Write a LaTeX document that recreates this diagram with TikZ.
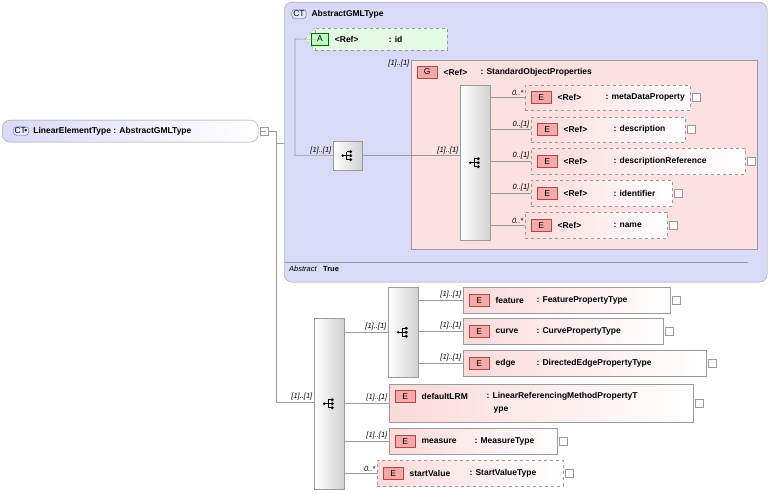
\documentclass[tikz,border=0pt]{standalone}
\usepackage{fontspec}
\setmainfont{Liberation Sans}
\usetikzlibrary{positioning,shapes.geometric}
\definecolor{ctfill}{HTML}{D9DAF7}
\definecolor{elfill}{HTML}{FCDADA}
\definecolor{icofill}{HTML}{F6A9A9}
\definecolor{icoline}{HTML}{B04848}
\definecolor{edge}{HTML}{9A9A9A}
\definecolor{attfill}{HTML}{E4FBE4}
\tikzset{
  box/.style={anchor=north west,inner sep=0pt,draw=edge},
  elem/.style={box,left color=elfill,right color=white},
  optl/.style={dashed},
  comp/.style={box,left color=white,right color=black!18},
  ico/.style={draw=icoline,fill=icofill,inner sep=0pt,minimum width=20pt,minimum height=12pt,font=\fontsize{8.5}{9}\selectfont},
  txt/.style={anchor=west,inner sep=0pt,font=\bfseries\fontsize{8.5}{10}\selectfont},
  card/.style={anchor=south east,inner sep=1.5pt,font=\itshape\fontsize{7.5}{8}\selectfont},
  plus/.style={draw=edge,fill=white,inner sep=0pt,minimum size=8pt},
  conn/.style={draw=edge,line width=0.6pt}
}
% element: name, x, y, width, height, name text, type text, extra style, type offset
\newcommand{\elembox}[9]{%
  \node[elem,#8,minimum width=#4pt,minimum height=#5pt] (#1) at (#2,#3) {};
  \node[ico,anchor=west] (#1i) at ([xshift=6pt]#1.west) {E};
  \node[txt,right=6pt of #1i] (#1n) {#6};
  \node[txt] at ([xshift=#9pt]#1n.west) {#7};
  \node[plus,anchor=west] at ([xshift=2pt]#1.east) {};}
\newcommand{\compico}[1]{%
  \fill (#1) ++(-5pt,0) circle (1.4pt);
  \draw[line width=0.6pt] (#1) ++(-5pt,0) -- ++(4pt,0) ++(0,-4pt) -- ++(0,8pt)
    ++(0,0) -- ++(3pt,0) ++(-3pt,-4pt) -- ++(3pt,0) ++(-3pt,-4pt) -- ++(3pt,0);
  \fill (#1) ++(3pt,4pt) circle (1.6pt) ++(0,-4pt) circle (1.6pt) ++(0,-4pt) circle (1.6pt);}
\begin{document}
\begin{tikzpicture}[x=1pt,y=-1pt]
\useasboundingbox (0,0) rectangle (772,494);
% base type container
\node[box,rounded corners=8pt,fill=ctfill,minimum width=483pt,minimum height=280pt] (base) at (284,2) {};
\node[draw=edge!60!blue,rounded corners=3pt,fill=ctfill!60,inner sep=1.5pt,font=\fontsize{8.5}{9}\selectfont] (baseico) at (299,14) {CT};
\node[txt,right=5pt of baseico] {AbstractGMLType};
\draw[edge] (285,262) -- (748,262);
\node[anchor=west,inner sep=0pt,font=\itshape\fontsize{7.5}{8}\selectfont] (abs) at (289,269) {Abstract};
\node[txt,font=\bfseries\fontsize{7.5}{8}\selectfont,right=6pt of abs] {True};
% main complex type
\node[box,rounded corners=8pt,left color=ctfill,right color=white,minimum width=256pt,minimum height=22pt] (main) at (2,120) {};
\node[draw=edge!60!blue,rounded corners=4pt,fill=ctfill!60,inner sep=1.5pt,font=\fontsize{8.5}{9}\selectfont] (mainico) at (21,131) {CT$\!$\textbullet};
\node[txt,right=4pt of mainico] {LinearElementType : AbstractGMLType};
\node[draw=edge,fill=white,inner sep=0pt,minimum size=8pt] (mainm) at (264,131) {};
\draw[edge] (mainm.west|-mainm) ++(1.5pt,0) -- ++(5pt,0);
% attribute id
\node[box,dashed,fill=attfill,minimum width=132pt,minimum height=22pt] (att) at (315,28) {};
\fill[attfill] (att.north west) -- ++(-10,11) -- ([yshift=0pt]att.south west) -- cycle;
\draw[edge,dashed] (att.north west) -- ++(-10,11) -- (att.south west);
\node[draw=green!40!black,fill=green!25,inner sep=0pt,minimum width=17pt,minimum height=12pt,font=\fontsize{8.5}{9}\selectfont] (atti) at (320,39) {A};
\node[txt,right=6pt of atti] (attn) {<Ref>};
\node[txt] at ([xshift=54pt]attn.west) {: id};
% group StandardObjectProperties
\node[box,fill=elfill!80,minimum width=346pt,minimum height=189pt] (grp) at (411,60) {};
\node[ico,anchor=west] (grpi) at (417,72) {G};
\node[txt,right=6pt of grpi] (grpn) {<Ref>};
\node[txt] at ([xshift=37pt]grpn.west) {: StandardObjectProperties};
\node[card] at ([yshift=-9pt]grp.north west) {[1]..[1]};
% sequences
\node[comp,minimum width=29pt,minimum height=29pt] (seqa) at (333,141) {};
\compico{seqa.center}
\node[comp,minimum width=30pt,minimum height=155pt] (seqb) at (460,85) {};
\compico{seqb.center}
\draw[conn] (mainm.east) -| (276,402) -- (314,402);
\draw[conn] (276,143) -- (284,143);
\draw[conn] (att.west) -- (295,39) |- (seqa.west);
\node[card] at (seqa.west) {[1]..[1]};
\draw[conn] (seqa.east) -- (seqb.west|-seqa.east);
\node[card] at (seqb.west|-seqa.east) {[1]..[1]};
% group members
\elembox{meta}{525}{85}{165}{25}{<Ref>}{: metaDataProperty}{optl}{48}
\elembox{desc}{531}{117}{154}{25}{<Ref>}{: description}{optl}{50}
\elembox{dref}{531}{148}{214}{26}{<Ref>}{: descriptionReference}{optl}{50}
\elembox{iden}{531}{180}{141}{26}{<Ref>}{: identifier}{optl}{50}
\elembox{name}{525}{212}{142}{26}{<Ref>}{: name}{optl}{56}
\foreach \e/\c in {meta/0..*,desc/0..[1],dref/0..[1],iden/0..[1],name/0..*}{
  \draw[conn] (seqb.east|-\e.west) -- (\e.west);
  \node[card] at (\e.west) {\c};}
% content model
\node[comp,minimum width=30pt,minimum height=171pt] (seqc) at (314,318) {};
\compico{seqc.center}
\node[card] at (314,402) {[1]..[1]};
\node[comp,minimum width=30pt,minimum height=90pt] (cho) at (388,287) {};
\compico{cho.center}
\elembox{feat}{463}{287}{207}{26}{feature}{: FeaturePropertyType}{}{41}
\elembox{curv}{463}{318}{200}{26}{curve}{: CurvePropertyType}{}{41}
\elembox{edg}{463}{350}{243}{26}{edge}{: DirectedEdgePropertyType}{}{41}
\foreach \e in {feat,curv,edg}{
  \draw[conn] (cho.east|-\e.west) -- (\e.west);
  \node[card] at (\e.west) {[1]..[1]};}
\draw[conn] (seqc.east|-cho.west) -- (cho.west);
\node[card] at (cho.west) {[1]..[1]};
\node[elem,minimum width=304pt,minimum height=38pt] (lrm) at (389,384) {};
\node[ico,anchor=west] (lrmi) at ([xshift=6pt,yshift=7pt]lrm.west) {E};
\node[txt,right=6pt of lrmi] (lrmn) {defaultLRM};
\node[txt,anchor=west] (lrmt) at ([xshift=65pt]lrmn.west) {: LinearReferencingMethodPropertyT};
\node[txt,anchor=west] at ([xshift=7pt,yshift=-14pt]lrmt.west) {ype};
\node[plus,anchor=west] at ([xshift=2pt]lrm.east) {};
\elembox{meas}{389}{428}{168}{26}{measure}{: MeasureType}{}{53}
\elembox{sval}{377}{460}{186}{26}{startValue}{: StartValueType}{optl}{60}
\foreach \e/\c in {lrm/[1]..[1],meas/[1]..[1],sval/0..*}{
  \draw[conn] (seqc.east|-\e.west) -- (\e.west);
  \node[card] at (\e.west) {\c};}
\end{tikzpicture}
\end{document}
